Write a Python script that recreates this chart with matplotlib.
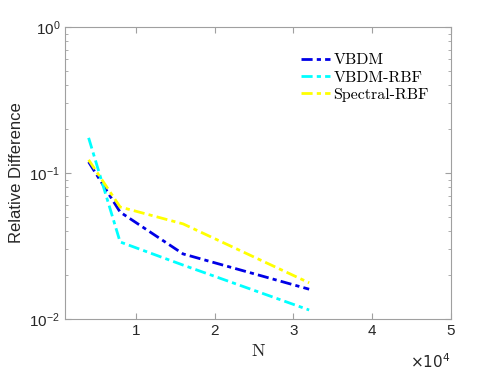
import numpy as np
import matplotlib
matplotlib.use("Agg")
import matplotlib.pyplot as plt
from matplotlib.ticker import FixedLocator, FuncFormatter, LogLocator, NullFormatter

N = [4000, 8000, 16000, 32000]
vbdm = [0.119, 0.054, 0.0279, 0.0160]
vbdm_rbf = [0.174, 0.0337, 0.0234, 0.01153]
spectral_rbf = [0.123, 0.0585, 0.0448, 0.0177]

fig = plt.figure(figsize=(4.98, 3.74), dpi=100)
ax = fig.add_axes([0.1305, 0.147, 0.775, 0.781])

ax.semilogy(N, vbdm, '-.', color=(0, 0, 0.9), lw=2, label='VBDM', dashes=(4, 1.5, 1.5, 1.5))
ax.semilogy(N, vbdm_rbf, '-.', color=(0, 1, 1), lw=2, label='VBDM-RBF', dashes=(4, 1.5, 1.5, 1.5))
ax.semilogy(N, spectral_rbf, '-.', color=(1, 1, 0), lw=2, label='Spectral-RBF', dashes=(4, 1.5, 1.5, 1.5))

ax.set_xlim(1000, 50000)
ax.set_ylim(1e-2, 1)
ax.xaxis.set_major_locator(FixedLocator([10000, 20000, 30000, 40000, 50000]))
ax.xaxis.set_major_formatter(FuncFormatter(lambda v, p: '%d' % round(v / 1e4)))
ax.yaxis.set_major_locator(LogLocator(base=10, numticks=10))
ax.yaxis.set_minor_locator(LogLocator(base=10, subs=np.arange(2, 10), numticks=10))
ax.yaxis.set_minor_formatter(NullFormatter())

for s in ax.spines.values():
    s.set_color('#a0a0a0')
ax.tick_params(which='both', direction='in', top=True, right=True, color='#a0a0a0',
               labelsize=11, labelcolor='#262626')
ax.tick_params(which='major', length=4)
ax.tick_params(which='minor', length=2)
for lab in ax.get_xticklabels() + ax.get_yticklabels():
    lab.set_family('Liberation Sans')

ax.set_xlabel('N', family='cmr10', fontsize=13, color='#262626', labelpad=4)
ax.set_ylabel('Relative Difference', family='Liberation Sans', fontsize=12, color='#262626', labelpad=4)
fig.text(0.905, 0.008, r'$\times10^4$', ha='right', va='bottom', fontsize=11, color='#262626',
         family='Liberation Sans')

leg = ax.legend(loc='upper right', frameon=False, prop={'family': 'cmr10', 'size': 11.5},
                handlelength=1.8, handletextpad=0.2, labelspacing=0.2,
                bbox_to_anchor=(0.98, 0.96))

fig.savefig('out.png', dpi=100)
